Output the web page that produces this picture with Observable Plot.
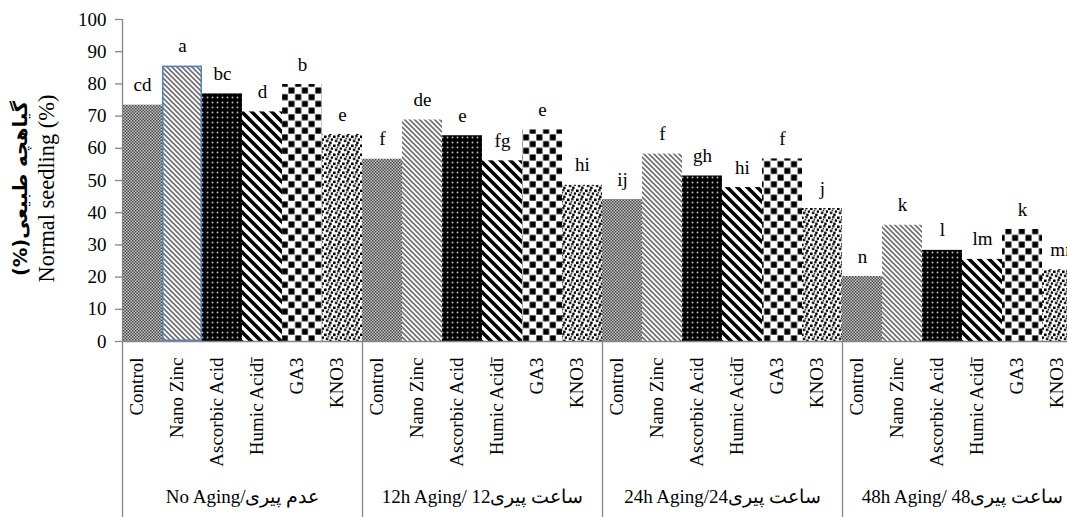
<!DOCTYPE html>
<html>
<head>
<meta charset="utf-8">
<script src="https://cdn.jsdelivr.net/npm/d3@7"></script>
<script src="https://cdn.jsdelivr.net/npm/@observablehq/plot@0.6"></script>
<style>
  html, body { margin: 0; padding: 0; background: white; overflow: hidden; }
  #chart svg { display: block; overflow: hidden; }
</style>
</head>
<body>
<svg width="0" height="0" style="position:absolute">
  <defs>
    <pattern id="pat0" width="3" height="3" patternUnits="userSpaceOnUse">
      <rect width="3" height="3" fill="#c4c4c4"/>
      <rect width="1.5" height="1.5" fill="#4a4a4a"/>
      <rect x="1.5" y="1.5" width="1.5" height="1.5" fill="#4a4a4a"/>
    </pattern>
    <pattern id="pat1" width="5" height="5" patternUnits="userSpaceOnUse">
      <rect width="5" height="5" fill="white"/>
      <path d="M0,0 L5,5 M-1,4 L1,6 M4,-1 L6,1" stroke="#6e6e6e" stroke-width="1.6"/>
    </pattern>
    <pattern id="pat2" width="5" height="5" patternUnits="userSpaceOnUse">
      <rect width="5" height="5" fill="black"/>
      <circle cx="2.5" cy="2.5" r="1" fill="#b8b8b8"/>
    </pattern>
    <pattern id="pat3" width="10" height="10" patternUnits="userSpaceOnUse">
      <rect width="10" height="10" fill="white"/>
      <path d="M-5,5 L5,15 M0,0 L10,10 M5,-5 L15,5" stroke="black" stroke-width="3.6"/>
    </pattern>
    <pattern id="pat4" width="13.4" height="13.4" patternUnits="userSpaceOnUse">
      <rect width="13.4" height="13.4" fill="white"/>
      <rect x="0.4" y="0.4" width="6" height="6" fill="black"/>
      <rect x="7.1" y="7.1" width="6" height="6" fill="black"/>
    </pattern>
    <pattern id="pat5" width="9" height="9" patternUnits="userSpaceOnUse">
      <rect width="9" height="9" fill="white"/>
      <rect x="0" y="0.5" width="2.6" height="2.6" fill="black"/>
      <rect x="4.2" y="0" width="2.4" height="2.4" fill="#222"/>
      <rect x="6.8" y="3.4" width="2.4" height="2.4" fill="black"/>
      <rect x="1.8" y="4.6" width="2.6" height="2.6" fill="#222"/>
      <rect x="5.2" y="6.6" width="2.4" height="2.4" fill="black"/>
      <rect x="3.6" y="2.8" width="1.6" height="1.6" fill="#333"/>
    </pattern>
  </defs>
</svg>
<div id="chart"></div>
<script>
// ---- data ----
const groups = ["No Aging/عدم پیری", "12h Aging/ 12ساعت پیری", "24h Aging/24ساعت پیری", "48h Aging/ 48ساعت پیری"];
const treatments = ["Control", "Nano Zinc", "Ascorbic Acid", "Humic Acidī", "GA3", "KNO3"];
const noAging  = [73.4, 85.5, 76.9, 71.3, 79.8, 64.3];
const aging12  = [56.6, 68.8, 63.9, 56.1, 65.7, 48.5];
const aging24  = [44.1, 58.2, 51.4, 47.8, 56.7, 41.3];
const aging48  = [20.2, 36.1, 28.3, 25.5, 34.8, 22.3];
const lettersNo = ["cd", "a", "bc", "d", "b", "e"];
const letters12 = ["f", "de", "e", "fg", "e", "hi"];
const letters24 = ["ij", "f", "gh", "hi", "f", "j"];
const letters48 = ["n", "k", "l", "lm", "k", "mn"];
const yTicks = [0, 10, 20, 30, 40, 50, 60, 70, 80, 90, 100];
const yTitleFa = "(%)گیاهچه طبیعی";
const yTitleEn = "Normal seedling (%)";

// ---- build table ----
const seriesValues = [noAging, aging12, aging24, aging48];
const seriesLetters = [lettersNo, letters12, letters24, letters48];
const patterns = treatments.map((t, k) => `url(#pat${k})`);
const data = [];
groups.forEach((g, gi) => {
  treatments.forEach((t, ti) => {
    const i = gi * treatments.length + ti;
    data.push({group: g, treatment: t, value: seriesValues[gi][ti], letter: seriesLetters[gi][ti],
               i, i2: i + 1, mid: i + 0.5, pat: patterns[ti], outline: gi === 0 && ti === 1});
  });
});
const n = data.length;
const groupData = groups.map((g, gi) => ({group: g, mid: gi * treatments.length + treatments.length / 2}));
const bounds = groups.map((g, gi) => gi * treatments.length).concat([n]);

const serif = "'Liberation Serif', 'Times New Roman', serif";
const axisGray = "#868686";

const chart = Plot.plot({
  width: 1067,
  height: 517,
  marginLeft: 122,
  marginRight: -15,
  marginTop: 19,
  marginBottom: 176,
  style: {fontFamily: serif, fontSize: "19px", background: "white", color: "black", overflow: "hidden"},
  x: {type: "linear", domain: [0, n], range: [122, 1082], axis: null},
  y: {domain: [0, 100], range: [341, 19], axis: null},
  color: {type: "identity"},
  marks: [
    Plot.rectY(data, {x1: "i", x2: "i2", y: "value", fill: "pat"}),
    Plot.rectY(data.filter(d => d.outline), {x1: "i", x2: "i2", y: "value", fill: "none", stroke: "#4f81bd", strokeWidth: 1.5, inset: 0.75}),
    Plot.text(data, {x: "mid", y: "value", text: "letter", dy: -20, fontSize: 19, fill: "black"}),
    // axes
    Plot.ruleX([0], {stroke: axisGray, strokeWidth: 1.3}),
    Plot.ruleY([0], {stroke: axisGray, strokeWidth: 1.3}),
    Plot.axisY({ticks: yTicks, tickSize: 7, tickFormat: () => "", stroke: axisGray, strokeWidth: 1.3, label: null}),
    Plot.axisY({ticks: yTicks, tickSize: 0, tickPadding: 16, fontSize: 19, fill: "black", label: null}),
    Plot.axisX({ticks: bounds, tickSize: 176, tickFormat: () => "", stroke: axisGray, strokeWidth: 1.3, label: null}),
    // category labels
    Plot.text(data, {x: "mid", text: "treatment", frameAnchor: "bottom", dy: 16, rotate: -90, textAnchor: "end", fontSize: 19, fill: "black"}),
    Plot.text(groupData, {x: "mid", text: "group", frameAnchor: "bottom", dy: 161, fontSize: 19, fill: "black"}),
    // y titles
    Plot.text([yTitleFa], {text: d => d, frameAnchor: "left", textAnchor: "middle", rotate: -90, dx: -102, dy: 8, fontSize: 19.5, fontWeight: "bold", fontFamily: "'DejaVu Sans', sans-serif", fill: "black"}),
    Plot.text([yTitleEn], {text: d => d, frameAnchor: "left", textAnchor: "middle", rotate: -90, dx: -76, dy: 8, fontSize: 22.4, fill: "black"})
  ]
});
document.getElementById("chart").appendChild(chart);
</script>
</body>
</html>
